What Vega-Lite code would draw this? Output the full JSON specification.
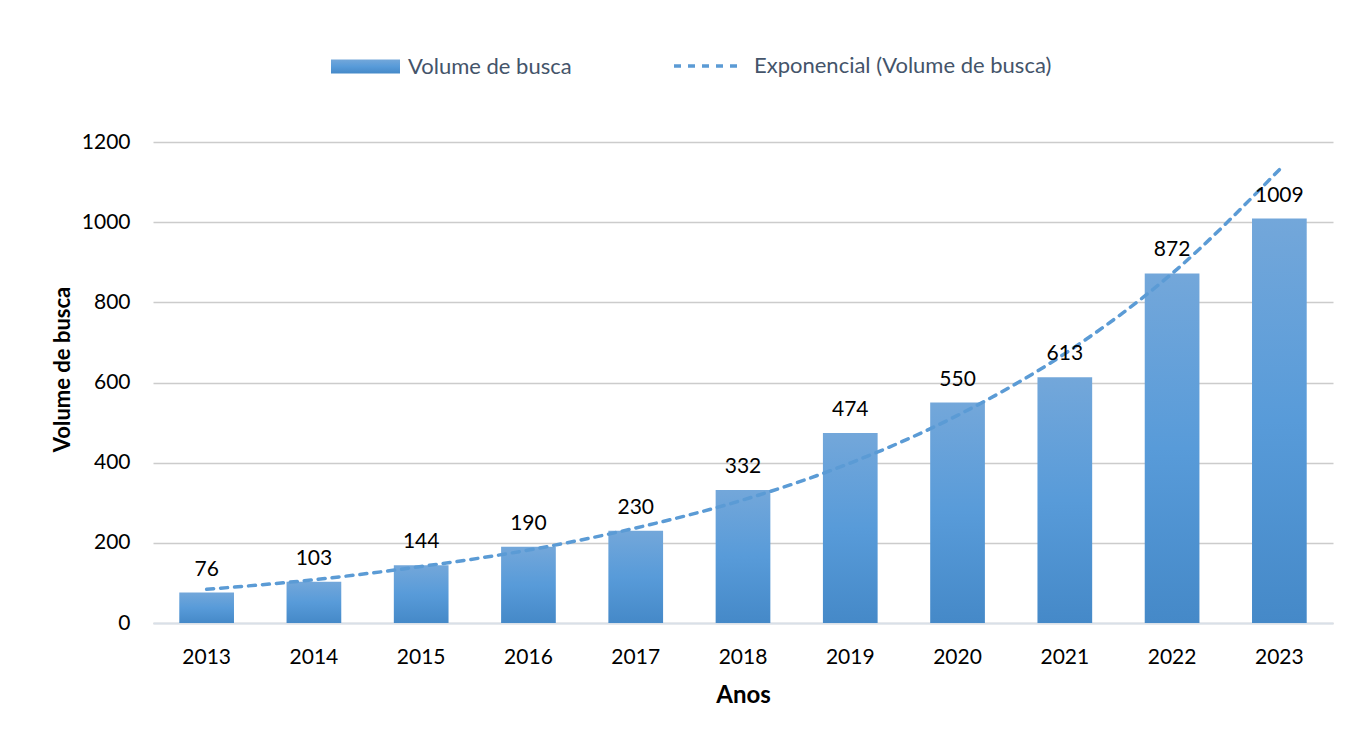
{
  "$schema": "https://vega.github.io/schema/vega-lite/v6.json",
  "width": 1180,
  "height": 481,
  "autosize": {"type": "none"},
  "padding": {"left": 153, "top": 142, "right": 19, "bottom": 113},
  "background": "white",
  "config": {
    "font": "Lato",
    "view": {"stroke": null},
    "axis": {"labelFont": "Lato", "titleFont": "Lato"},
    "legend": {"labelFont": "Lato", "labelFontSize": 22, "labelColor": "#44546a", "labelOffset": 8, "padding": 0, "labelLimit": 500}
  },
  "data": {
    "values": [
      {"Ano": "2013", "Volume": 76, "Tendencia": 84},
      {"Ano": "2014", "Volume": 103, "Tendencia": 108},
      {"Ano": "2015", "Volume": 144, "Tendencia": 141},
      {"Ano": "2016", "Volume": 190, "Tendencia": 182},
      {"Ano": "2017", "Volume": 230, "Tendencia": 237},
      {"Ano": "2018", "Volume": 332, "Tendencia": 307},
      {"Ano": "2019", "Volume": 474, "Tendencia": 399},
      {"Ano": "2020", "Volume": 550, "Tendencia": 518},
      {"Ano": "2021", "Volume": 613, "Tendencia": 672},
      {"Ano": "2022", "Volume": 872, "Tendencia": 872},
      {"Ano": "2023", "Volume": 1009, "Tendencia": 1131}
    ]
  },
  "encoding": {
    "x": {
      "field": "Ano",
      "type": "ordinal",
      "scale": {"paddingInner": 0.49, "paddingOuter": 0.245},
      "axis": {
        "title": "Anos",
        "labelAngle": 0,
        "ticks": false,
        "labelPadding": 40,
        "labelBaseline": "alphabetic",
        "labelFontSize": 21,
        "labelColor": "#000000",
        "domainColor": "#d9e0e8",
        "domainWidth": 2,
        "titleFontSize": 24,
        "titleFontWeight": "bold",
        "titleColor": "#000000",
        "titleBaseline": "alphabetic",
        "titleY": 79
      }
    }
  },
  "layer": [
    {
      "mark": {
        "type": "bar",
        "fill": {
          "gradient": "linear",
          "x1": 0, "y1": 0, "x2": 0, "y2": 1,
          "stops": [
            {"offset": 0, "color": "#73a7da"},
            {"offset": 0.5, "color": "#589bd9"},
            {"offset": 1, "color": "#4589c8"}
          ]
        },
        "strokeWidth": 0
      },
      "encoding": {
        "y": {
          "field": "Volume",
          "type": "quantitative",
          "scale": {"domain": [0, 1200]},
          "axis": {
            "title": "Volume de busca",
            "values": [0, 200, 400, 600, 800, 1000, 1200],
            "format": "d",
            "ticks": false,
            "domain": false,
            "labelPadding": 23,
            "labelFontSize": 21,
            "labelColor": "#000000",
            "gridColor": "#cccccc",
            "gridWidth": 1.5,
            "titleFontSize": 22,
            "titleFontWeight": "bold",
            "titleColor": "#000000",
            "titleBaseline": "alphabetic",
            "titleX": -84,
            "titleY": 227
          }
        },
        "opacity": {
          "datum": "Volume de busca",
          "type": "nominal",
          "scale": {"domain": ["Volume de busca"], "range": [1]},
          "legend": {
            "orient": "none",
            "legendX": 178,
            "legendY": -110,
            "direction": "horizontal",
            "title": null,
            "symbolSize": 4761,
            "symbolType": "M-1,-0.203H1V0.203H-1Z",
            "symbolFillColor": "#5b9bd5",
            "symbolStrokeWidth": 0,
            "symbolOpacity": 1
          }
        }
      }
    },
    {
      "mark": {
        "type": "line",
        "strokeWidth": 3.5,
        "strokeDash": [7, 7],
        "strokeCap": "round",
        "interpolate": "monotone"
      },
      "encoding": {
        "y": {"field": "Tendencia", "type": "quantitative"},
        "stroke": {
          "datum": "Exponencial (Volume de busca)",
          "type": "nominal",
          "scale": {"domain": ["Exponencial (Volume de busca)"], "range": ["#5b9bd5"]},
          "legend": {
            "orient": "none",
            "legendX": 519,
            "legendY": -113,
            "direction": "horizontal",
            "title": null,
            "symbolSize": 4900,
            "symbolType": "stroke",
            "symbolDash": [7, 7],
            "symbolStrokeWidth": 3.5,
            "symbolStrokeColor": "#5b9bd5"
          }
        }
      }
    },
    {
      "mark": {
        "type": "text",
        "baseline": "alphabetic",
        "dy": -17,
        "fontSize": 21,
        "color": "#000000",
        "font": "Lato"
      },
      "encoding": {
        "y": {"field": "Volume", "type": "quantitative"},
        "text": {"field": "Volume", "type": "quantitative"}
      }
    }
  ]
}
